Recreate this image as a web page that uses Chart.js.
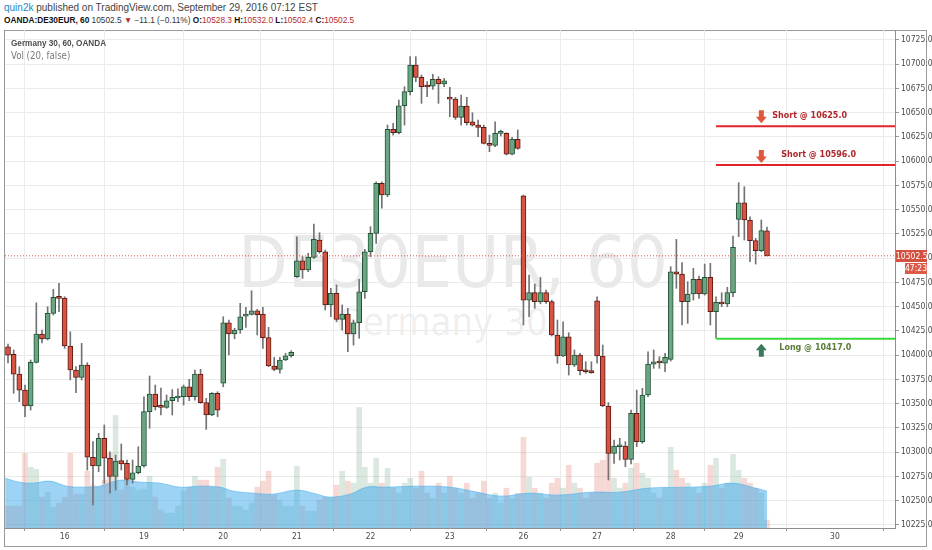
<!DOCTYPE html>
<html>
<head>
<meta charset="utf-8">
<script src="https://cdn.jsdelivr.net/npm/chart.js@4.4.1/dist/chart.umd.min.js"></script>
<style>
  html, body { margin: 0; padding: 0; background: #fff; }
  #wrap { position: relative; width: 932px; height: 550px; overflow: hidden; font-family: "Liberation Sans", Arial, sans-serif; }
  #c { position: absolute; left: 0; top: 0; z-index: 2; }
  .hdr { position: absolute; left: 4px; white-space: nowrap; color: #444; }
  #hdr1 { top: 1px; font-size: 10px; line-height: 13px; }
  #hdr2 { top: 14px; font-size: 8.3px; line-height: 13px; color: #333; }
  #hdr1 .user { color: #2a86c0; }
  #hdr2 b { color: #111; }
  #hdr2 .r { color: #b52b2b; }
  #frame { position: absolute; left: 4px; top: 30px; width: 921px; height: 515px; border: 1px solid #9a9a9a; z-index: 1; }
  .wm { position: absolute; text-align: center; color: rgba(0,0,0,0.085); white-space: nowrap; z-index: 1;
        font-family: "Liberation Sans Narrow", "DejaVu Sans Condensed", "Liberation Sans", sans-serif; }
  #wm1 { left: 153px; width: 600px; top: 226px; font-size: 72px; line-height: 72px; }
  #wm2 { left: 142px; width: 600px; top: 303px; font-size: 38px; line-height: 38px; }
  .leg { position: absolute; left: 11px; white-space: nowrap; z-index: 3; line-height: 11px; }
  #leg1 { top: 38px; font-size: 8.2px; font-weight: bold; color: #4d4d4d; }
  #leg2 { top: 50px; font-size: 9.6px; color: #7a7a7a;
          font-family: "Liberation Sans Narrow", "DejaVu Sans Condensed", "Liberation Sans", sans-serif; }
  .note { position: absolute; white-space: nowrap; z-index: 3; font-family: "DejaVu Sans", Verdana, sans-serif;
          font-weight: bold; font-size: 8px; line-height: 10px; }
  .box { position: absolute; z-index: 3; color: #fff; text-align: center; line-height: 12px;
         font-family: "Liberation Sans Narrow", "DejaVu Sans Condensed", "Liberation Sans", sans-serif; font-size: 8.5px; }
  #pbox { left: 896px; width: 31px; height: 12px; background: #d4503f; }
  #tbox { left: 905px; width: 22px; height: 11px; line-height: 11px; background: #de5a48; }
</style>
</head>
<body>
<div id="wrap">
  <div class="hdr" id="hdr1"><span class="user">quin2k</span> published on TradingView.com, September 29, 2016 07:12 EST</div>
  <div class="hdr" id="hdr2"><b>OANDA:DE30EUR, 60</b> 10502.5 <span class="r">&#9660;</span> &minus;11.1 (&minus;0.11%) <b>O:</b><span class="r">10528.3</span> <b>H:</b><span class="r">10532.0</span> <b>L:</b><span class="r">10502.4</span> <b>C:</b><span class="r">10502.5</span></div>
  <div id="frame"></div>
  <div class="wm" id="wm1">DE30EUR, 60</div>
  <div class="wm" id="wm2">Germany 30</div>
  <canvas id="c" width="932" height="550"></canvas>
  <div class="leg" id="leg1">Germany 30, 60, OANDA</div>
  <div class="leg" id="leg2">Vol (20, false)</div>
  <div class="note" id="note0"></div>
  <div class="note" id="note1"></div>
  <div class="note" id="note2"></div>
  <div class="box" id="pbox"></div>
  <div class="box" id="tbox">47:23</div>
</div>
<script>
// day labels and the hourly bar where each day starts
const days = ['16', '19', '20', '21', '22', '23', '26', '27', '28', '29', '30'];
const dayIdx = [10, 24, 38, 51, 64, 78, 91, 104, 117, 129, 146];
const priceTicks = [10225, 10250, 10275, 10300, 10325, 10350, 10375, 10400, 10425, 10450, 10475,
                    10500, 10525, 10550, 10575, 10600, 10625, 10650, 10675, 10700, 10725];

// hourly OHLC
const opens = [
  10408.8, 10401, 10380.6, 10364.1, 10347.7, 10392.7, 10421.9, 10416.7, 10443.2, 10459.7,
  10459, 10409.5, 10384.8, 10377.2, 10389.9, 10294.8, 10285.8, 10314.4, 10293.8, 10275,
  10291.3, 10288.6, 10272.1, 10278.9, 10285.8, 10341.8, 10360, 10347.9, 10346.3, 10353.1,
  10355.9, 10357.2, 10367.5, 10357.2, 10380.6, 10351.1, 10338.4, 10360.7, 10371.1, 10433.5,
  10421.9, 10426, 10440.4, 10442.2, 10445.9, 10442.5, 10418.1, 10388.9, 10385.5, 10395.1,
  10399.5, 10481, 10497.4, 10487.9, 10500.9, 10518.8, 10506.7, 10451.8, 10463.8, 10437,
  10442.5, 10421.9, 10433.5, 10465.5, 10506.7, 10525.7, 10577.2, 10565.2, 10632.9, 10629.4,
  10657.2, 10671.7, 10699.2, 10686.5, 10677.5, 10677.5, 10684.4, 10679.6, 10665, 10664,
  10645.3, 10656.9, 10640.7, 10637.3, 10634.9, 10618.5, 10616.4, 10628.8, 10628.8, 10607.4,
  10622.6, 10564.4, 10456.9, 10464.5, 10455.2, 10464.5, 10455.2, 10420.9, 10399.2, 10419.1,
  10389.9, 10400.2, 10384.8, 10384.1, 10456.2, 10399.2, 10347.7, 10298.9, 10305.7, 10306.4,
  10292.7, 10340.1, 10310.9, 10359, 10390.9, 10393.3, 10391.7, 10395.8, 10486.1, 10483.7,
  10455.2, 10463.1, 10478.3, 10463.1, 10480.3, 10444.9, 10454.6, 10452.8, 10464.5, 10540.1,
  10557.2, 10539.4, 10518.1, 10507.7, 10528.3
];
const highs = [
  10411.6, 10405.4, 10388.2, 10369.3, 10395.1, 10454.1, 10426, 10450, 10468, 10474.1,
  10460.3, 10424.2, 10388.2, 10412.3, 10392.3, 10310.9, 10319.5, 10328.1, 10300.5, 10297.1,
  10308.5, 10292, 10292, 10305.7, 10357.2, 10378.6, 10369.3, 10366.2, 10359, 10364.6,
  10365.4, 10369.3, 10375.2, 10384.7, 10385.5, 10355.6, 10361.4, 10362.4, 10439.7, 10436.3,
  10427.8, 10453.5, 10449.4, 10466.5, 10447.3, 10449.4, 10428.8, 10397.9, 10397.9, 10402,
  10404.7, 10522.2, 10501.6, 10505.1, 10535.3, 10526.3, 10508.5, 10469, 10472.4, 10451.8,
  10448.4, 10436.3, 10478.3, 10509.2, 10532.5, 10578.9, 10578.9, 10637.3, 10639.1, 10663.1,
  10676.8, 10707.8, 10707.8, 10688.9, 10682, 10689.6, 10687.1, 10685.5, 10676.2, 10665.9,
  10668.3, 10665.9, 10650, 10642.5, 10637.3, 10627, 10640.7, 10632.2, 10629.4, 10624.7,
  10632.2, 10565.2, 10482.7, 10473.4, 10480.3, 10467.2, 10456.9, 10436.3, 10434.5, 10423.2,
  10405.4, 10402, 10393.3, 10393.3, 10460.3, 10410.5, 10351.1, 10312.6, 10314.4, 10310.9,
  10343.5, 10364.1, 10365.9, 10403.6, 10405.4, 10398.5, 10402, 10491.3, 10519.5, 10495.4,
  10475.8, 10489.6, 10481.7, 10494, 10494.8, 10460.3, 10464.5, 10470, 10522.9, 10577.9,
  10573.7, 10542.8, 10520.5, 10539.4, 10532
];
const lows = [
  10392, 10360.7, 10352.1, 10336.6, 10343.5, 10392, 10412.6, 10415.7, 10441.5, 10444.9,
  10407.1, 10374.5, 10361.4, 10374.5, 10281.7, 10245.6, 10279.9, 10268, 10257.7, 10261,
  10281.7, 10266.2, 10268, 10277.6, 10284.5, 10324.7, 10343.5, 10338.4, 10345.3, 10338.4,
  10352.1, 10348.7, 10353.1, 10353.8, 10350.5, 10323.6, 10337.7, 10336.6, 10367.5, 10400.4,
  10417, 10422.6, 10428.8, 10441.5, 10420.9, 10407.1, 10388.2, 10384, 10381.4, 10394.4,
  10397.9, 10480.3, 10479.3, 10486.1, 10499.9, 10505.1, 10446.6, 10439.7, 10434.5, 10426,
  10403.6, 10410.5, 10417.5, 10458.7, 10501.6, 10515.4, 10551.5, 10563.4, 10627, 10628.1,
  10637.3, 10668.3, 10682, 10659.7, 10666.5, 10674.1, 10659.7, 10676.8, 10645.9, 10643.2,
  10637.3, 10637.3, 10636.3, 10625.3, 10617.8, 10609.8, 10615, 10626, 10606.4, 10606.4,
  10612.3, 10431.2, 10439.7, 10448.4, 10453, 10453.5, 10419.8, 10391.7, 10398.5, 10379.6,
  10388.2, 10379.8, 10381.4, 10381.4, 10391.7, 10347, 10271.4, 10288.6, 10292, 10285,
  10288, 10305.7, 10309.2, 10357.2, 10386.5, 10386.5, 10383, 10394, 10469, 10431.2,
  10432.9, 10456.9, 10458.7, 10462, 10431.2, 10417.5, 10450, 10450, 10460.3, 10522.2,
  10518.8, 10496.4, 10494, 10506.7, 10502.4
];
const closes = [
  10400.2, 10380.6, 10364.1, 10347.7, 10392.7, 10421.9, 10416.7, 10443.2, 10459.7, 10458.7,
  10409.5, 10384.8, 10377.2, 10389.9, 10294.8, 10285.8, 10314.4, 10293.8, 10275, 10291,
  10287.9, 10272.1, 10278.9, 10285.8, 10341.8, 10360, 10346.9, 10346.3, 10353.1, 10356.6,
  10358, 10367.5, 10357.2, 10380.6, 10351.1, 10338.4, 10360.7, 10343.5, 10433.5, 10421.9,
  10426, 10439.7, 10442.5, 10445.9, 10441.8, 10418.1, 10388.9, 10385.5, 10395.1, 10399.5,
  10403, 10497.4, 10487.9, 10500.9, 10519.5, 10506.7, 10451.8, 10463.8, 10437, 10442.5,
  10421.9, 10433.5, 10465.5, 10506.7, 10525.7, 10577.2, 10565.2, 10632.9, 10629.4, 10657.2,
  10671.7, 10699.2, 10686.5, 10676.8, 10676.5, 10684.4, 10679.6, 10683, 10664, 10645.3,
  10656.9, 10639.7, 10637.3, 10634.9, 10618.5, 10616.4, 10628.8, 10629.4, 10607.4, 10622.6,
  10613.3, 10456.9, 10464.5, 10455.2, 10464.5, 10455.2, 10420.9, 10399.2, 10419.1, 10389.9,
  10400.2, 10384.1, 10383, 10382, 10399.2, 10347.7, 10298.9, 10306.4, 10306.4, 10292.7,
  10340.1, 10310.9, 10359, 10390.9, 10393.3, 10392, 10397.9, 10486.1, 10483.7, 10455.2,
  10463.1, 10478.3, 10463.1, 10480.3, 10444.9, 10454.6, 10452.8, 10464.5, 10511.3, 10557.2,
  10539.4, 10518.1, 10507.7, 10528.4, 10502.5
];
const volumes = [
  22, 22, 22, 75, 61, 59, 31, 36, 21, 25,
  31, 75, 34, 34, 57, 43, 41, 48, 75, 113,
  38, 48, 41, 38, 39, 52, 31, 18, 15, 15,
  22, 37, 41, 52, 48, 48, 41, 61, 69, 30,
  22, 22, 18, 25, 41, 47, 57, 33, 28, 22,
  22, 62, 22, 17, 17, 28, 31, 30, 43, 57,
  47, 45, 121, 61, 45, 70, 45, 60, 40, 35,
  45, 50, 40, 57, 35, 30, 45, 35, 52, 40,
  35, 45, 30, 35, 47, 30, 35, 25, 40, 30,
  35, 91, 51, 40, 35, 30, 45, 50, 40, 63,
  45, 40, 30, 35, 65, 68, 91, 50, 40, 45,
  60, 65, 55, 50, 35, 30, 40, 81, 58, 50,
  45, 40, 35, 45, 63, 70, 40, 45, 74, 58,
  50, 45, 40, 35, 8
];
// Vol(20) average, read at a few bars
const maIdx = [-0.5, 2, 4.5, 7.4, 10.4, 13.3, 16.2, 19.8, 23.3, 26.8, 30.4, 33.9, 37.4, 39.8, 43.3, 46.8, 51, 54.5,
               56.8, 60.4, 63.3, 66.3, 73, 78, 82, 87, 92, 97, 103, 108, 113, 120, 124, 128, 132, 134];
const maVol = [50, 46, 45, 47, 42, 41, 42, 48, 46, 45, 41, 42, 41, 37, 35, 34, 38, 34,
               31, 34, 41, 41, 42, 41, 37, 32, 35, 33, 36, 36, 40, 41, 42, 45, 40, 37];

// drawn trade levels
const levels = [10636, 10596, 10417];
const levelText = ['Short @ 10625.0', 'Short @ 10596.0', 'Long @ 10417.0'];
const levelColor = ['#e3232a', '#e3232a', '#3ad83a'];
const levelStart = 125;
const arrowIdx = 133;
const lastPrice = 10502.5;

const X_MIN = -0.53, X_MAX = 156.6;
const UP = '#6ba583', DOWN = '#d75442';
const idx = closes.map((c, i) => i);
const isUp = i => closes[i] >= opens[i];

Chart.defaults.font.family = '"Liberation Sans Narrow", "DejaVu Sans Condensed", "Liberation Sans", sans-serif';
Chart.defaults.font.size = 8.5;
Chart.defaults.color = '#4b4b4b';

function drawArrow(ctx, cx, tipY, dir, color) {
  // dir 1 points down, -1 points up
  const hw = 5.5, hh = 6.5, sw = 2.5, sh = 6.5;
  const baseY = tipY - dir * hh;
  ctx.beginPath();
  ctx.moveTo(cx, tipY);
  ctx.lineTo(cx - hw, baseY);
  ctx.lineTo(cx - sw, baseY);
  ctx.lineTo(cx - sw, baseY - dir * sh);
  ctx.lineTo(cx + sw, baseY - dir * sh);
  ctx.lineTo(cx + sw, baseY);
  ctx.lineTo(cx + hw, baseY);
  ctx.closePath();
  ctx.fillStyle = color;
  ctx.fill();
}

const overlay = {
  id: 'overlay',
  afterDatasetsDraw(chart) {
    const { ctx, scales: { x, y } } = chart;
    const ax = x.getPixelForValue(arrowIdx);
    ctx.save();
    drawArrow(ctx, ax, y.getPixelForValue(levels[0]) - 3, 1, '#e0573c');
    drawArrow(ctx, ax, y.getPixelForValue(levels[1]) - 2, 1, '#e0573c');
    drawArrow(ctx, ax, y.getPixelForValue(levels[2]) + 5, -1, '#3b7a5b');
    ctx.restore();
  },
  afterDraw(chart) {
    const { x, y } = chart.scales;
    const ax = x.getPixelForValue(arrowIdx);
    const dx = [11, 20, 18];
    const dy = [-15, -15, 4];
    const col = ['#b0262a', '#b0262a', '#5d7b39'];
    levels.forEach((v, k) => {
      const el = document.getElementById('note' + k);
      el.textContent = levelText[k];
      el.style.left = (ax + dx[k]) + 'px';
      el.style.top = (y.getPixelForValue(v) + dy[k]) + 'px';
      el.style.color = col[k];
    });
    const py = y.getPixelForValue(lastPrice);
    const pb = document.getElementById('pbox');
    pb.textContent = lastPrice.toFixed(1);
    pb.style.top = (py - 6) + 'px';
    document.getElementById('tbox').style.top = (py + 7) + 'px';
  }
};

const levelSets = levels.map((v, k) => ({
  type: 'line',
  data: [{ x: levelStart, y: v }, { x: X_MAX, y: v }],
  borderColor: levelColor[k],
  borderWidth: 2,
  pointRadius: 0,
  order: 0
}));

new Chart(document.getElementById('c'), {
  type: 'bar',
  data: {
    datasets: [
      ...levelSets,
      {
        type: 'line',
        data: [{ x: X_MIN, y: lastPrice }, { x: X_MAX, y: lastPrice }],
        borderColor: '#d75442',
        borderWidth: 1,
        borderDash: [1, 2],
        pointRadius: 0,
        order: 1
      },
      {
        label: 'body',
        data: idx.map(i => ({ x: i, y: [opens[i], closes[i]] })),
        backgroundColor: idx.map(i => isUp(i) ? UP : DOWN),
        borderColor: idx.map(i => isUp(i) ? '#225437' : '#5b1a13'),
        borderWidth: 1,
        borderSkipped: false,
        barThickness: 5,
        minBarLength: 2,
        grouped: false,
        order: 2
      },
      {
        label: 'wick',
        data: idx.map(i => ({ x: i, y: [lows[i], highs[i]] })),
        backgroundColor: '#737375',
        barThickness: 1,
        grouped: false,
        order: 3
      },
      {
        type: 'line',
        label: 'volMA',
        yAxisID: 'yVol',
        data: maIdx.map((v, k) => ({ x: v, y: maVol[k] })),
        borderColor: 'rgba(60,170,235,0.55)',
        borderWidth: 1,
        backgroundColor: 'rgba(60,170,235,0.5)',
        fill: 'origin',
        tension: 0.4,
        pointRadius: 0,
        order: 4
      },
      {
        label: 'volume',
        yAxisID: 'yVol',
        data: idx.map(i => ({ x: i, y: volumes[i] })),
        backgroundColor: idx.map(i => isUp(i) ? 'rgba(107,165,131,0.25)' : 'rgba(215,84,66,0.22)'),
        barThickness: 5,
        grouped: false,
        order: 5
      }
    ]
  },
  options: {
    responsive: false,
    animation: false,
    devicePixelRatio: 1,
    layout: { padding: { left: 5, top: 30, right: 0, bottom: 4 } },
    plugins: { legend: { display: false }, tooltip: { enabled: false } },
    scales: {
      x: {
        type: 'linear',
        min: X_MIN,
        max: X_MAX,
        offset: false,
        afterBuildTicks(axis) { axis.ticks = dayIdx.map(v => ({ value: v })); },
        afterFit(axis) { axis.height = 18; },
        ticks: {
          autoSkip: false,
          maxRotation: 0,
          padding: 1,
          callback: (v) => days[dayIdx.indexOf(v)]
        },
        grid: { color: '#ebebeb', tickLength: 3, tickColor: '#9a9a9a' },
        border: { color: '#8e8e8e' }
      },
      y: {
        type: 'linear',
        position: 'right',
        min: 10221.9,
        max: 10735.3,
        afterBuildTicks(axis) { axis.ticks = priceTicks.map(v => ({ value: v })); },
        afterFit(axis) { axis.width = 37; },
        ticks: { padding: 2, callback: v => v.toFixed(1) },
        grid: { color: '#ebebeb', tickLength: 4, tickColor: '#9a9a9a' },
        border: { color: '#8e8e8e' }
      },
      yVol: {
        type: 'linear',
        display: false,
        min: 0,
        max: 500
      }
    }
  },
  plugins: [overlay]
});
</script>
</body>
</html>
